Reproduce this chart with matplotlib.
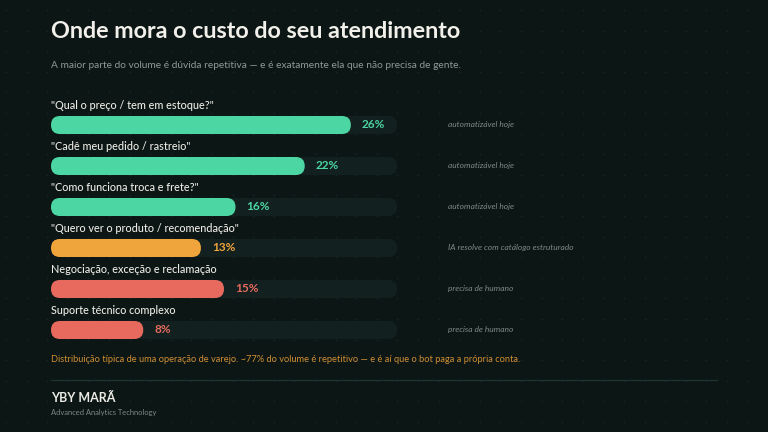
import numpy as np
import matplotlib.pyplot as plt
from matplotlib.patches import FancyBboxPatch

categories = ['"Qual o preço / tem em estoque?"', '"Cadê meu pedido / rastreio"',
              '"Como funciona troca e frete?"', '"Quero ver o produto / recomendação"',
              'Negociação, exceção e reclamação', 'Suporte técnico complexo']
values = [26, 22, 16, 13, 15, 8]
kinds = ['auto', 'auto', 'auto', 'ia', 'human', 'human']
notes = ['automatizável hoje', 'automatizável hoje', 'automatizável hoje',
         'IA resolve com catálogo estruturado', 'precisa de humano', 'precisa de humano']
xmax = 30

bg = '#0c1615'
track = '#12211f'
colors = {'auto': '#4cd6a3', 'ia': '#f0a43c', 'human': '#e86a5e'}

plt.rcParams['font.family'] = ['Lato', 'DejaVu Sans']

W, H = 768, 432
fig = plt.figure(figsize=(W / 100, H / 100), dpi=100, facecolor=bg)

# faint dot grid in the background
bgax = fig.add_axes([0, 0, 1, 1])
bgax.set_xlim(0, W)
bgax.set_ylim(H, 0)
bgax.axis('off')
gx, gy = np.meshgrid(np.arange(6, W, 20.6), np.arange(10, H, 20.6))
bgax.scatter(gx.ravel(), gy.ravel(), s=1.3, color='#17272a', lw=0)

def fx(px):
    return px / W

def fy(py):
    return 1 - py / H

fig.text(fx(51), fy(32), 'Onde mora o custo do seu atendimento', fontsize=16.8,
         fontweight='bold', color='#f2f0ea', va='center')
fig.text(fx(51), fy(65), 'A maior parte do volume é dúvida repetitiva — e é exatamente ela que não precisa de gente.',
         fontsize=7.3, color='#8f9a97', va='center')

# bar area
top, bot = 84, 350.5
ax = fig.add_axes([fx(51), fy(bot), 346 / W, (bot - top) / H])
ax.set_xlim(0, xmax)
ax.set_ylim(5.5, -1)
ax.axis('off')

bh = 0.44
px_per_x = 346 / xmax
px_per_y = (bot - top) / 6.5
r = (bh * px_per_y / 2) / px_per_x
ma = px_per_x / px_per_y

def pill(x0, w, yc, color):
    ax.add_patch(FancyBboxPatch((x0, yc - bh / 2), w, bh,
                                boxstyle=f'round,pad=0,rounding_size={r}',
                                mutation_aspect=ma, fc=color, ec='none'))

for i, (cat, v, k, note) in enumerate(zip(categories, values, kinds, notes)):
    c = colors[k]
    pill(0, xmax, i, track)
    pill(0, v, i, c)
    ax.text(0, i - 0.48, cat, fontsize=7.8, fontweight='medium', color='#ecebe5',
            va='center', ha='left')
    ax.annotate(f'{v}%', (v, i), xytext=(8, 0), textcoords='offset points',
                fontsize=8.5, fontweight='bold', color=c, va='center', ha='left')
    ax.text((448 - 51) / px_per_x, i, note, fontsize=6.0, style='italic',
            color='#7f8a87', va='center', ha='left', clip_on=False)

fig.text(fx(51), fy(359), 'Distribuição típica de uma operação de varejo. ~77% do volume é repetitivo — e é aí que o bot paga a própria conta.',
         fontsize=6.7, color='#d18f31', va='center')
bgax.plot([51, 717], [380, 380], color='#1c3532', lw=0.9)
fig.text(fx(51), fy(398), 'YBY MARÃ', fontsize=9, fontweight='bold', color='#ecebe5', va='center')
fig.text(fx(51), fy(412), 'Advanced Analytics Technology', fontsize=5.4, color='#7f8a87', va='center')

fig.savefig('out.png', dpi=100, facecolor=bg)
